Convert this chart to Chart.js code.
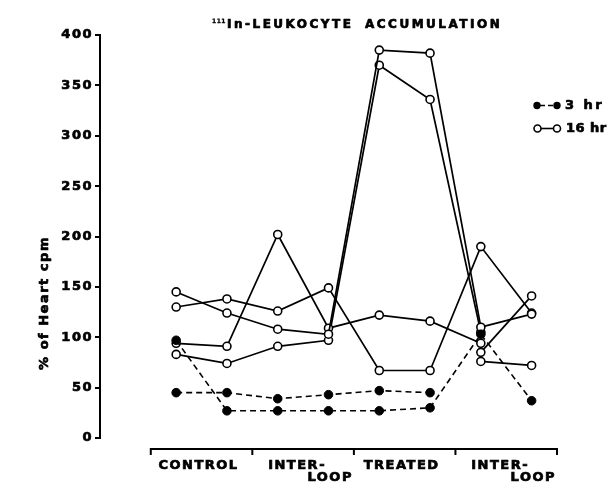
<!DOCTYPE html>
<html><head><meta charset="utf-8">
<script src="https://cdn.jsdelivr.net/npm/chart.js@4.4.0/dist/chart.umd.min.js"></script>
<style>html,body{margin:0;padding:0;background:#fff}</style>
</head><body>
<canvas id="c" width="612" height="492" style="width:612px;height:492px;display:block"></canvas>
<script>
// ---- data ----
const groupLabels = [["CONTROL "], ["INTER-  ", "         LOOP"], ["TREATED "], ["INTER-  ", "         LOOP"]];
const slots = [0.5, 1.5, 2.5, 3.5, 4.5, 5.5, 6.5, 7.5];
const yTickValues = [0, 50, 100, 150, 200, 250, 300, 350, 400];
const hr16_a = [145, 124, 108, 103, 385, 382, 110, 123];
const hr16_b = [130, 138, 126, 149, 67, 67, 190, 124];
const hr16_c = [94, 91, 202, 109, 122, 116, 94, null];
const hr16_d = [83, 74, 91, 97, 370, 336, 105, null];
const hr16_e = [null, null, null, null, null, null, 85, 141];
const hr16_f = [null, null, null, null, null, null, 76, 72];
const hr3_a = [97, 27, 27, 27, 27, 30, 103, 37];
const hr3_b = [45, 45, 39, 43, 47, 45, null, null];
const titleWords = ["In-LEUKOCYTE", "ACCUMULATION"];
const titleSup = "111";
const yTitle = "% of Heart cpm";
const legendLabels = ["3 hr", "16 hr"];

const FAM = '"DejaVu Sans", sans-serif';
const toPts = arr => arr.map((v, i) => ({x: slots[i], y: v}));

function solid(arr) {
  return {data: toPts(arr), borderColor: '#000', borderWidth: 1.7, pointRadius: 4,
    pointBackgroundColor: '#fff', pointBorderColor: '#000', pointBorderWidth: 1.6,
    spanGaps: false, tension: 0};
}
function dashed(arr) {
  return {data: toPts(arr), borderColor: '#000', borderWidth: 1.6, borderDash: [6, 4], pointRadius: 4.3,
    pointBackgroundColor: '#000', pointBorderColor: '#000', pointBorderWidth: 1,
    spanGaps: false, tension: 0};
}

function txt(ctx, s, x, y, size, spacing, align, base, stroke) {
  ctx.save();
  ctx.font = 'bold ' + size + 'px ' + FAM;
  ctx.letterSpacing = spacing + 'px';
  ctx.fillStyle = '#000';
  ctx.strokeStyle = '#000';
  ctx.lineWidth = stroke === undefined ? 0.7 : stroke;
  ctx.lineJoin = 'round';
  ctx.textAlign = align || 'left';
  ctx.textBaseline = base || 'middle';
  ctx.fillText(s, x, y);
  if (ctx.lineWidth > 0) ctx.strokeText(s, x, y);
  ctx.restore();
}

const spacingPlugin = {
  id: 'spacing',
  beforeUpdate(chart) { chart.ctx.letterSpacing = '1.5px'; },
  beforeDraw(chart) { chart.ctx.letterSpacing = '1.5px'; }
};

const decorPlugin = {
  id: 'decor',
  afterDraw(chart) {
    const ctx = chart.ctx;
    const xs = chart.scales.x, ys = chart.scales.y;
    // x bracket
    const yb = ys.getPixelForValue(0) + 11;
    ctx.save();
    ctx.strokeStyle = '#000';
    ctx.lineWidth = 2;
    ctx.beginPath();
    ctx.moveTo(xs.getPixelForValue(0), yb);
    ctx.lineTo(xs.getPixelForValue(8), yb);
    [0, 2, 4, 6, 8].forEach(v => {
      const px = xs.getPixelForValue(v);
      ctx.moveTo(px, yb - 1);
      ctx.lineTo(px, yb + 6);
    });
    ctx.stroke();
    ctx.restore();
    // title
    txt(ctx, titleSup, 212, 21, 6, 0.5, 'left', 'middle', 0.3);
    txt(ctx, titleWords[0], 227, 25, 12, 2.5, 'left', 'middle');
    txt(ctx, titleWords[1], 365, 25, 12, 2.5, 'left', 'middle');
    // y title
    ctx.save();
    ctx.translate(45, 303);
    ctx.rotate(-Math.PI / 2);
    txt(ctx, yTitle, 0, 0, 13, 1.5, 'center', 'middle');
    ctx.restore();
    // legend
    ctx.save();
    ctx.strokeStyle = '#000';
    ctx.lineWidth = 1.6;
    ctx.beginPath(); ctx.moveTo(540, 105.5); ctx.lineTo(554, 105.5);
    ctx.setLineDash([5, 3]); ctx.stroke(); ctx.setLineDash([]);
    ctx.fillStyle = '#000';
    [537, 557].forEach(cx => { ctx.beginPath(); ctx.arc(cx, 105.5, 3.7, 0, Math.PI * 2); ctx.fill(); });
    ctx.beginPath(); ctx.moveTo(541, 128.5); ctx.lineTo(553, 128.5); ctx.stroke();
    ctx.fillStyle = '#fff';
    [537.5, 557].forEach(cx => { ctx.beginPath(); ctx.arc(cx, 128.5, 3.5, 0, Math.PI * 2); ctx.fill(); ctx.stroke(); });
    ctx.restore();
    txt(ctx, legendLabels[0], 565, 105.5, 13, 2.5, 'left', 'middle');
    txt(ctx, legendLabels[1], 566, 128.5, 13, 0.5, 'left', 'middle');
  }
};

new Chart(document.getElementById('c'), {
  type: 'line',
  data: {
    datasets: [dashed(hr3_a), dashed(hr3_b), solid(hr16_a), solid(hr16_b), solid(hr16_c), solid(hr16_d), solid(hr16_e), solid(hr16_f)]
  },
  options: {
    responsive: false,
    animation: false,
    devicePixelRatio: 1,
    layout: {padding: {top: 35, right: 55, left: 0, bottom: 0}},
    plugins: {legend: {display: false}, title: {display: false}, tooltip: {enabled: false}},
    scales: {
      x: {
        type: 'linear', min: -1, max: 8,
        border: {display: false},
        grid: {display: false, drawTicks: false},
        afterBuildTicks: s => { s.ticks = [1, 3, 5, 7].map(v => ({value: v})); },
        afterFit: s => { s.height = 54; },
        ticks: {
          autoSkip: false, maxRotation: 0, minRotation: 0, padding: 22, color: '#000',
          textStrokeColor: '#000', textStrokeWidth: 0.7,
          font: {family: FAM, weight: 'bold', size: 13, lineHeight: 0.92},
          callback: v => groupLabels[(v - 1) / 2]
        }
      },
      y: {
        min: 0, max: 400,
        border: {display: true, color: '#000', width: 2},
        grid: {display: true, drawOnChartArea: false, drawTicks: true, tickLength: 5, color: '#000', lineWidth: 2},
        afterBuildTicks: s => { s.ticks = yTickValues.map(v => ({value: v})); },
        afterFit: s => { s.width = 100; },
        ticks: {padding: 2, color: '#000', textStrokeColor: '#000', textStrokeWidth: 0.7,
          font: {family: FAM, weight: 'bold', size: 13}}
      }
    }
  },
  plugins: [spacingPlugin, decorPlugin]
});
</script>
</body></html>
